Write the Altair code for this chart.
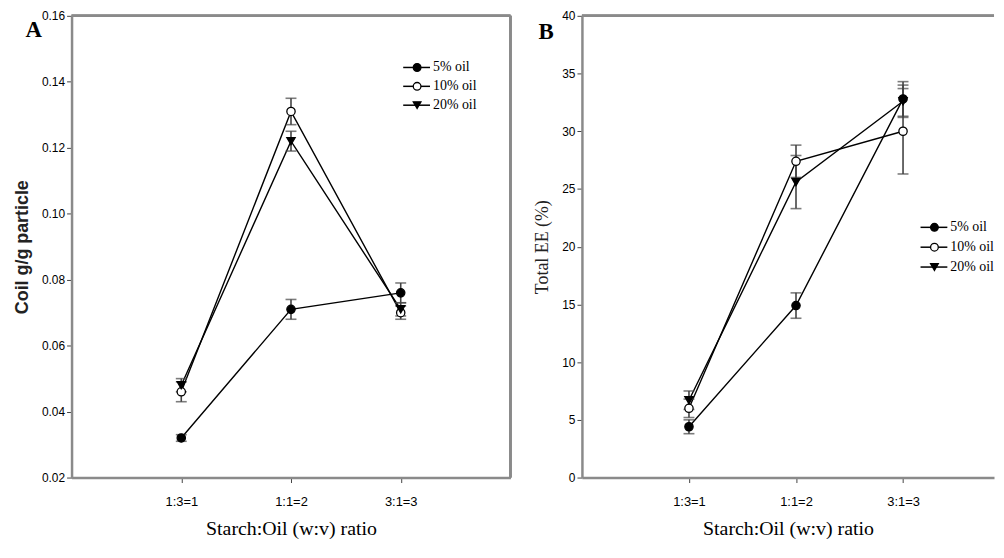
import altair as alt
import pandas as pd

# ---------------- data ----------------
x_pos = [1, 2, 3]
x_labels = ["1:3=1", "1:1=2", "3:1=3"]
series = ["5% oil", "10% oil", "20% oil"]

# Panel A: Coil g/g particle
coil_5 = [0.032, 0.071, 0.076]
coil_5_err = [0.001, 0.003, 0.003]
coil_10 = [0.046, 0.131, 0.070]
coil_10_err = [0.003, 0.004, 0.002]
coil_20 = [0.048, 0.122, 0.071]
coil_20_err = [0.002, 0.003, 0.002]

# Panel B: Total EE (%)
ee_5 = [4.4, 14.9, 32.8]
ee_5_err = [0.6, 1.1, 1.5]
ee_10 = [6.0, 27.4, 30.0]
ee_10_err = [0.8, 1.4, 3.7]
ee_20 = [6.7, 25.6, 32.6]
ee_20_err = [0.8, 2.3, 1.4]

coil_ticks = [0.02, 0.04, 0.06, 0.08, 0.10, 0.12, 0.14, 0.16]
ee_ticks = [0, 5, 10, 15, 20, 25, 30, 35, 40]


def build_df(vals, errs):
    rows = []
    for s, v, e in zip(series, vals, errs):
        for i, x in enumerate(x_pos):
            rows.append({"series": s, "x": x, "y": v[i],
                         "lo": v[i] - e[i], "hi": v[i] + e[i]})
    return pd.DataFrame(rows)


df_a = build_df([coil_5, coil_10, coil_20], [coil_5_err, coil_10_err, coil_20_err])
df_b = build_df([ee_5, ee_10, ee_20], [ee_5_err, ee_10_err, ee_20_err])
df_leg = pd.DataFrame({"series": series})

label_expr = " : ".join(
    [f"datum.value == {p} ? '{l}'" for p, l in zip(x_pos, x_labels)]) + " : ''"

shape_scale = alt.Scale(domain=series, range=["circle", "circle", "triangle-down"])
fill_scale = alt.Scale(domain=series, range=["black", "white", "black"])

TICK_FONT = "Liberation Sans Narrow, Arial Narrow, Liberation Sans"
SERIF = "Liberation Serif"
AXIS_GRAY = "#8a8a8a"


def panel(df, ydomain, yticks, yfmt, ytitle, ytitle_font, ytitle_weight,
          width, height, xmax, letter, letter_xy, leg_x, leg_rows, right_border):
    x_enc = alt.X("x:Q", scale=alt.Scale(domain=[0, xmax], nice=False),
                  axis=alt.Axis(values=x_pos, labelExpr=label_expr, grid=False,
                                title="Starch:Oil (w:v) ratio", titleFont=SERIF,
                                titleFontSize=20, titleFontWeight="normal",
                                titleColor="black", titlePadding=10,
                                labelPadding=13, labelFont=TICK_FONT,
                                labelFontSize=13, labelColor="black",
                                tickSize=5, tickColor="#444",
                                domainColor=AXIS_GRAY, domainWidth=2.5))
    y_scale = alt.Scale(domain=ydomain, nice=False, zero=False)
    y_axis = alt.Axis(values=yticks, format=yfmt, grid=False, title=ytitle,
                      titleFont=ytitle_font, titleFontSize=18,
                      titleFontWeight=ytitle_weight, titleColor="#222",
                      titlePadding=10, labelPadding=2, labelFont=TICK_FONT,
                      labelFontSize=12, labelColor="black", tickSize=5,
                      tickColor="#444", domainColor=AXIS_GRAY, domainWidth=2.5)

    base = alt.Chart(df)
    lines = base.mark_line(color="black", strokeWidth=1.4).encode(
        x=x_enc, y=alt.Y("y:Q", scale=y_scale, axis=y_axis),
        detail="series:N")
    err = base.mark_rule(color="#444", strokeWidth=1.6).encode(
        x="x:Q", y="lo:Q", y2="hi:Q")
    cap_lo = base.mark_tick(color="#444", thickness=1.6, size=11,
                            orient="horizontal").encode(x="x:Q", y="lo:Q")
    cap_hi = base.mark_tick(color="#444", thickness=1.6, size=11,
                            orient="horizontal").encode(x="x:Q", y="hi:Q")
    pts = base.mark_point(filled=True, stroke="black", strokeWidth=1.3,
                          size=70, opacity=1).encode(
        x="x:Q", y="y:Q",
        shape=alt.Shape("series:N", scale=shape_scale, legend=None),
        fill=alt.Fill("series:N", scale=fill_scale, legend=None))
    main = alt.layer(lines, err, cap_lo, cap_hi, pts)

    leg_y = alt.Y("series:N", axis=None,
                  scale=alt.Scale(type="point", domain=series,
                                  range=leg_rows, padding=0))
    lb = alt.Chart(df_leg)
    leg_rule = lb.mark_rule(color="black", strokeWidth=1.5).encode(
        x=alt.value(leg_x[0]), x2=alt.value(leg_x[1]), y=leg_y)
    leg_pts = lb.mark_point(filled=True, stroke="black", strokeWidth=1.3,
                            size=60, opacity=1).encode(
        x=alt.value(leg_x[2]), y=leg_y,
        shape=alt.Shape("series:N", scale=shape_scale, legend=None),
        fill=alt.Fill("series:N", scale=fill_scale, legend=None))
    leg_txt = lb.mark_text(align="left", baseline="middle", font=SERIF,
                           fontSize=14, color="black", dx=1).encode(
        x=alt.value(leg_x[3]), y=leg_y, text="series:N")
    legend = alt.layer(leg_rule, leg_pts, leg_txt)

    frame = [alt.Chart(df_leg).mark_rule(color=AXIS_GRAY, strokeWidth=2.5).encode(
        x=alt.value(0), x2=alt.value(width), y=alt.value(0))]
    if right_border:
        frame.append(alt.Chart(df_leg).mark_rule(color=AXIS_GRAY, strokeWidth=2.5).encode(
            x=alt.value(width), y=alt.value(0), y2=alt.value(height)))

    let = alt.Chart(pd.DataFrame({"t": [letter]})).mark_text(
        font=SERIF, fontSize=23, fontWeight="bold", color="black",
        align="center", baseline="middle").encode(
        x=alt.value(letter_xy[0]), y=alt.value(letter_xy[1]), text="t:N")

    return alt.layer(main, legend, *frame, let).resolve_scale(
        y="independent").properties(width=width, height=height)


panel_a = panel(df_a, [0.02, 0.16], coil_ticks, ".2f", "Coil g/g particle",
                "Liberation Sans", "bold", 442, 465, 4.0, "A", (-38, 14),
                (334, 361, 348, 363), [52, 90], True)
panel_b = panel(df_b, [0, 40], ee_ticks, "d", "Total EE (%)",
                SERIF, "normal", 415, 465, 3.85, "B", (-36, 16),
                (341, 368, 355, 370), [213, 253], False)

chart = alt.hconcat(panel_a, panel_b, spacing=21).properties(
    padding={"left": 5, "top": 0, "right": 0, "bottom": 0}
).configure_view(stroke=None)

chart.save("out.html", embed_options={"renderer": "svg", "actions": False})
